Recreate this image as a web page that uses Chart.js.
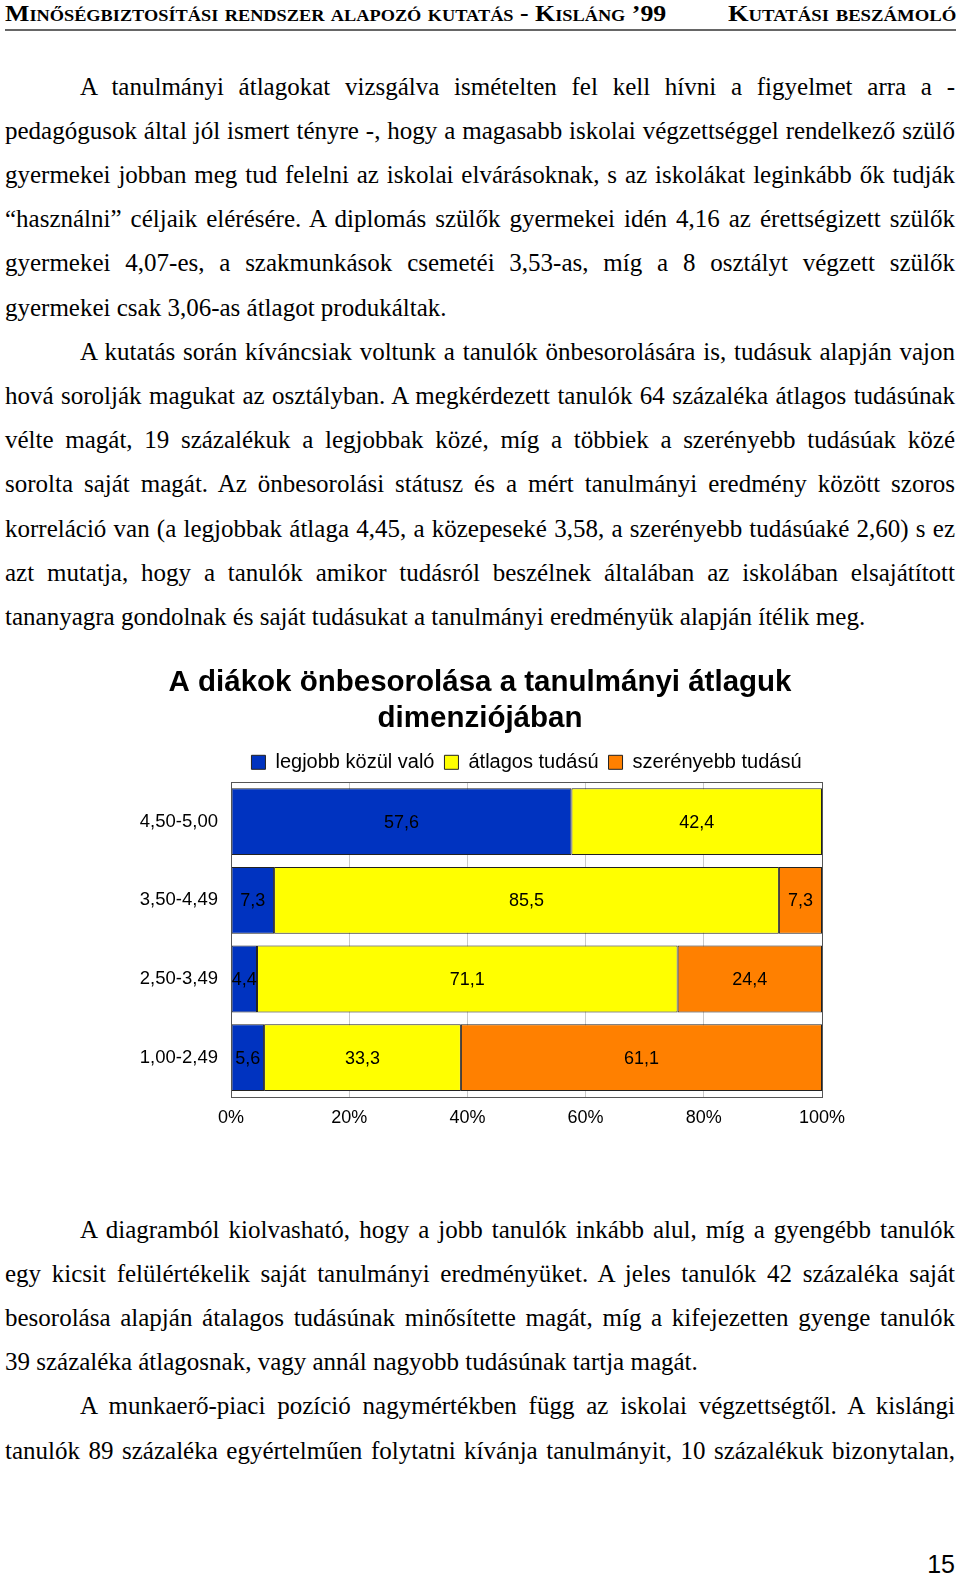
<!DOCTYPE html>
<html lang="hu">
<head>
<meta charset="utf-8">
<title>A diákok önbesorolása a tanulmányi átlaguk dimenziójában</title>
<script src="https://cdn.jsdelivr.net/npm/chart.js@4.4.1/dist/chart.umd.min.js"></script>
<style>
  html, body { margin: 0; padding: 0; background: #fff; }
  body { width: 960px; height: 1577px; position: relative; overflow: hidden; }
  .hdr { position: absolute; top: 0; font-family: "Liberation Serif", "Times New Roman", serif; font-weight: bold;
         font-variant: small-caps; font-size: 24px; line-height: 26px; white-space: nowrap; transform-origin: 0 0; color: #000; }
  .rule { position: absolute; left: 5px; top: 29px; width: 951px; height: 2px; background: #666; }
  .ln { position: absolute; font-family: "Liberation Serif", "Times New Roman", serif; font-size: 25px; line-height: 44px;
        white-space: nowrap; color: #000; text-align: justify; text-align-last: justify; }
  .ln.last { text-align: left; text-align-last: left; }
  .pg { position: absolute; right: 5px; top: 1548px; font-family: "Liberation Sans", Arial, sans-serif; font-size: 25px; line-height: 32px; }
  #chartBox { position: absolute; left: 0; top: 650px; width: 960px; height: 487px; }
</style>
</head>
<body>
<div class="hdr" id="hdrL" style="left:5px">Minőségbiztosítási rendszer alapozó kutatás - Kisláng ’99</div>
<div class="hdr" id="hdrR" style="left:728px">Kutatási beszámoló</div>
<div class="rule"></div>
<div id="text"></div>
<div id="chartBox"><canvas id="chart" width="960" height="487"></canvas></div>
<div class="pg">15</div>
<script>
// chart data
const categories = ['4,50-5,00', '3,50-4,49', '2,50-3,49', '1,00-2,49'];
const seriesNames = ['legjobb közül való', 'átlagos tudású', 'szerényebb tudású'];
const legjobb = [57.6, 7.3, 4.4, 5.6];
const atlagos = [42.4, 85.5, 71.1, 33.3];
const szerenyebb = [0, 7.3, 24.4, 61.1];
const tickLabels = ['0%', '20%', '40%', '60%', '80%', '100%'];
const colors = ['#0033c0', '#ffff00', '#ff8000'];

// page text, one entry per printed line: [text, indent, lastLineOfParagraph]
const textTop = [
  ['A tanulmányi átlagokat vizsgálva ismételten fel kell hívni a figyelmet arra a -', 1, 0],
  ['pedagógusok által jól ismert tényre -, hogy a magasabb iskolai végzettséggel rendelkező szülő', 0, 0],
  ['gyermekei jobban meg tud felelni az iskolai elvárásoknak, s az iskolákat leginkább ők tudják', 0, 0],
  ['“használni” céljaik elérésére. A diplomás szülők gyermekei idén 4,16 az érettségizett szülők', 0, 0],
  ['gyermekei 4,07-es, a szakmunkások csemetéi 3,53-as, míg a 8 osztályt végzett szülők', 0, 0],
  ['gyermekei csak 3,06-as átlagot produkáltak.', 0, 1],
  ['A kutatás során kíváncsiak voltunk a tanulók önbesorolására is, tudásuk alapján vajon', 1, 0],
  ['hová sorolják magukat az osztályban. A megkérdezett tanulók 64 százaléka átlagos tudásúnak', 0, 0],
  ['vélte magát, 19 százalékuk a legjobbak közé, míg a többiek a szerényebb tudásúak közé', 0, 0],
  ['sorolta saját magát. Az önbesorolási státusz és a mért tanulmányi eredmény között szoros', 0, 0],
  ['korreláció van (a legjobbak átlaga 4,45, a közepeseké 3,58, a szerényebb tudásúaké 2,60) s ez', 0, 0],
  ['azt mutatja, hogy a tanulók amikor tudásról beszélnek általában az iskolában elsajátított', 0, 0],
  ['tananyagra gondolnak és saját tudásukat a tanulmányi eredményük alapján ítélik meg.', 0, 1]
];
const textBottom = [
  ['A diagramból kiolvasható, hogy a jobb tanulók inkább alul, míg a gyengébb tanulók', 1, 0],
  ['egy kicsit felülértékelik saját tanulmányi eredményüket. A jeles tanulók 42 százaléka saját', 0, 0],
  ['besorolása alapján átalagos tudásúnak minősítette magát, míg a kifejezetten gyenge tanulók', 0, 0],
  ['39 százaléka átlagosnak, vagy annál nagyobb tudásúnak tartja magát.', 0, 1],
  ['A munkaerő-piaci pozíció nagymértékben függ az iskolai végzettségtől. A kislángi', 1, 0],
  ['tanulók 89 százaléka egyértelműen folytatni kívánja tanulmányit, 10 százalékuk bizonytalan,', 0, 0]
];

function putLines(lines, top) {
  const box = document.getElementById('text');
  lines.forEach((l, i) => {
    const d = document.createElement('div');
    d.className = 'ln' + (l[2] ? ' last' : '');
    const left = l[1] ? 80 : 5;
    d.style.left = left + 'px';
    d.style.width = (955 - left) + 'px';
    d.style.top = (top + i * 44.2).toFixed(1) + 'px';
    d.textContent = l[0];
    box.appendChild(d);
  });
}
putLines(textTop, 64.5);
putLines(textBottom, 1207.5);

// squeeze the header to the printed width
function fitWidth(id, w) {
  const el = document.getElementById(id);
  el.style.transform = 'scaleX(' + (w / el.offsetWidth) + ')';
}
fitWidth('hdrL', 661);
fitWidth('hdrR', 228);

// 100% stacked: each row is shown as a share of its own total
const rows = [legjobb, atlagos, szerenyebb];
const rowTotal = categories.map((_, i) => rows.reduce((s, r) => s + r[i], 0));
const share = (arr) => arr.map((v, i) => v / rowTotal[i] * 100);

const valueLabels = {
  id: 'valueLabels',
  afterDatasetsDraw(chart) {
    const ctx = chart.ctx;
    ctx.save();
    ctx.font = '18px "Liberation Sans", Arial, sans-serif';
    ctx.fillStyle = '#000';
    ctx.textAlign = 'center';
    ctx.textBaseline = 'middle';
    chart.data.datasets.forEach((ds, di) => {
      chart.getDatasetMeta(di).data.forEach((bar, i) => {
        const v = rows[di][i];
        if (!v) return;
        ctx.fillText(String(v).replace('.', ','), (bar.x + bar.base) / 2, bar.y + 1);
      });
    });
    ctx.restore();
  }
};

const frame = {
  id: 'frame',
  afterDatasetsDraw(chart) {
    const a = chart.chartArea, ctx = chart.ctx;
    ctx.save();
    ctx.strokeStyle = '#555';
    ctx.lineWidth = 1;
    ctx.strokeRect(Math.round(a.left) + 0.5, Math.round(a.top) + 0.5, Math.round(a.right - a.left), Math.round(a.bottom - a.top));
    ctx.restore();
  }
};

const font = '"Liberation Sans", Arial, sans-serif';

new Chart(document.getElementById('chart'), {
  type: 'bar',
  data: {
    labels: categories,
    datasets: rows.map((r, k) => ({
      label: seriesNames[k],
      data: share(r),
      backgroundColor: colors[k],
      borderColor: '#222',
      borderWidth: 1,
      borderSkipped: false,
      categoryPercentage: 1,
      barPercentage: 0.85
    }))
  },
  options: {
    indexAxis: 'y',
    responsive: false,
    animation: false,
    events: [],
    layout: { padding: 0 },
    scales: {
      x: {
        stacked: true,
        min: 0,
        max: 100,
        ticks: {
          stepSize: 20,
          color: '#000',
          padding: 10,
          font: { family: font, size: 18 },
          callback: (v) => tickLabels[v / 20]
        },
        grid: { color: '#c8c8c8', drawTicks: false },
        border: { display: false },
        afterFit(s) { s.height = 40; }
      },
      y: {
        stacked: true,
        ticks: { color: '#000', padding: 13, font: { family: font, size: 18.5 } },
        grid: { display: false, drawTicks: false },
        border: { display: false },
        afterFit(s) { s.width = 231; }
      },
      y2: {
        type: 'category',
        position: 'right',
        labels: categories,
        ticks: { display: false },
        grid: { display: false, drawTicks: false },
        border: { display: false },
        afterFit(s) { s.width = 138; }
      }
    },
    plugins: {
      title: {
        display: true,
        text: ['A diákok önbesorolása a tanulmányi átlaguk', 'dimenziójában'],
        color: '#000',
        font: { family: font, size: 29.5, weight: 'bold', lineHeight: 1.2 },
        padding: { top: 15.5, bottom: 6 }
      },
      legend: {
        position: 'top',
        fullSize: false,
        labels: {
          color: '#000',
          boxWidth: 14,
          boxHeight: 14,
          padding: 10,
          font: { family: font, size: 20 }
        }
      },
      tooltip: { enabled: false }
    }
  },
  plugins: [valueLabels, frame]
});
</script>
</body>
</html>
